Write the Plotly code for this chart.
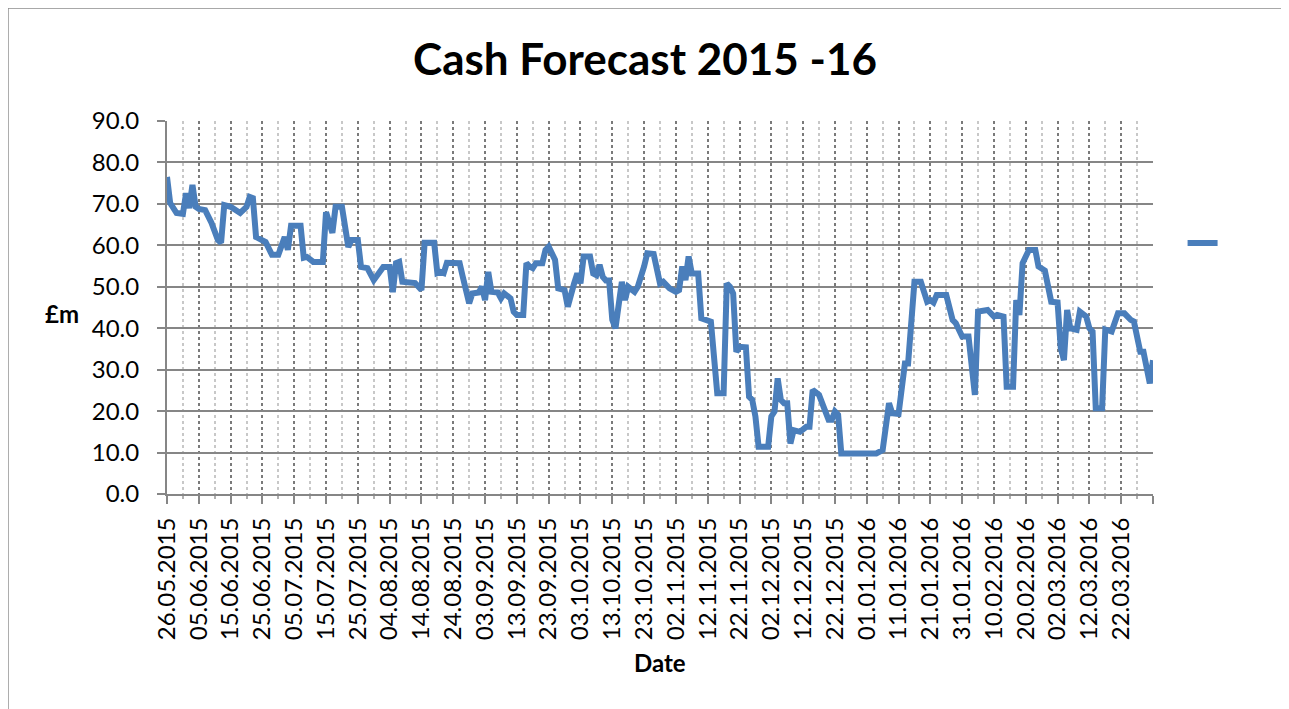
import pandas as pd
import plotly.graph_objects as go

# ---- data ----
dates = [
    "2015-05-26", "2015-05-27", "2015-05-29", "2015-05-31", "2015-06-01", "2015-06-02", "2015-06-03",
    "2015-06-04", "2015-06-05", "2015-06-07", "2015-06-09", "2015-06-11", "2015-06-12", "2015-06-13",
    "2015-06-15", "2015-06-18", "2015-06-20", "2015-06-21", "2015-06-22", "2015-06-23", "2015-06-26",
    "2015-06-28", "2015-06-30", "2015-07-01", "2015-07-02", "2015-07-03", "2015-07-04", "2015-07-07",
    "2015-07-08", "2015-07-09", "2015-07-11", "2015-07-14", "2015-07-15", "2015-07-17", "2015-07-18",
    "2015-07-20", "2015-07-22", "2015-07-23", "2015-07-25", "2015-07-26", "2015-07-28", "2015-07-30",
    "2015-07-31", "2015-08-02", "2015-08-04", "2015-08-05", "2015-08-06", "2015-08-07", "2015-08-08",
    "2015-08-12", "2015-08-14", "2015-08-15", "2015-08-18", "2015-08-19", "2015-08-20", "2015-08-21",
    "2015-08-22", "2015-08-26", "2015-08-27", "2015-08-28", "2015-08-29", "2015-08-30", "2015-09-01",
    "2015-09-02", "2015-09-03", "2015-09-04", "2015-09-05", "2015-09-07", "2015-09-08", "2015-09-09",
    "2015-09-11", "2015-09-12", "2015-09-13", "2015-09-15", "2015-09-16", "2015-09-17", "2015-09-18",
    "2015-09-19", "2015-09-21", "2015-09-22", "2015-09-23", "2015-09-25", "2015-09-26", "2015-09-28",
    "2015-09-29", "2015-10-01", "2015-10-02", "2015-10-03", "2015-10-04", "2015-10-06", "2015-10-07",
    "2015-10-08", "2015-10-09", "2015-10-10", "2015-10-11", "2015-10-12", "2015-10-13", "2015-10-14",
    "2015-10-16", "2015-10-17", "2015-10-18", "2015-10-20", "2015-10-21", "2015-10-23", "2015-10-24",
    "2015-10-26", "2015-10-28", "2015-10-29", "2015-10-31", "2015-11-02", "2015-11-03", "2015-11-04",
    "2015-11-05", "2015-11-06", "2015-11-07", "2015-11-09", "2015-11-10", "2015-11-13", "2015-11-15",
    "2015-11-17", "2015-11-18", "2015-11-19", "2015-11-20", "2015-11-21", "2015-11-22", "2015-11-24",
    "2015-11-25", "2015-11-26", "2015-11-27", "2015-11-28", "2015-12-01", "2015-12-02", "2015-12-03",
    "2015-12-04", "2015-12-05", "2015-12-06", "2015-12-07", "2015-12-08", "2015-12-09", "2015-12-11",
    "2015-12-13", "2015-12-14", "2015-12-15", "2015-12-17", "2015-12-19", "2015-12-20", "2015-12-21",
    "2015-12-22", "2015-12-23", "2015-12-24", "2016-01-04", "2016-01-06", "2016-01-08", "2016-01-09",
    "2016-01-11", "2016-01-13", "2016-01-14", "2016-01-15", "2016-01-16", "2016-01-18", "2016-01-20",
    "2016-01-21", "2016-01-22", "2016-01-23", "2016-01-26", "2016-01-28", "2016-01-29", "2016-01-31",
    "2016-02-02", "2016-02-04", "2016-02-05", "2016-02-08", "2016-02-10", "2016-02-11", "2016-02-13",
    "2016-02-14", "2016-02-16", "2016-02-17", "2016-02-18", "2016-02-19", "2016-02-21", "2016-02-23",
    "2016-02-24", "2016-02-26", "2016-02-28", "2016-03-02", "2016-03-03", "2016-03-04", "2016-03-05",
    "2016-03-06", "2016-03-08", "2016-03-09", "2016-03-11", "2016-03-12", "2016-03-13", "2016-03-14",
    "2016-03-16", "2016-03-17", "2016-03-18", "2016-03-19", "2016-03-21", "2016-03-23", "2016-03-25",
    "2016-03-26", "2016-03-28", "2016-03-29", "2016-03-31", "2016-04-01",
]

cash_m = [
    76.5, 70.2, 67.8, 67.6, 72.6, 69.0, 74.6,
    69.3, 68.8, 68.5, 65.4, 61.3, 60.6, 69.7,
    69.3, 67.8, 69.3, 71.7, 71.4, 62.0, 60.8,
    57.7, 57.7, 59.6, 62.0, 58.9, 64.7, 64.7,
    57.0, 57.2, 56.0, 56.0, 68.0, 63.0, 69.3,
    69.3, 59.6, 61.3, 61.3, 54.8, 54.5, 51.6,
    52.8, 54.8, 54.8, 48.7, 55.7, 56.0, 51.2,
    50.9, 49.2, 60.6, 60.6, 53.3, 53.6, 53.3,
    55.8, 55.7, 52.4, 48.4, 46.0, 48.4, 48.6,
    50.0, 46.8, 53.6, 48.8, 48.6, 47.2, 48.4,
    47.2, 44.0, 43.2, 43.2, 55.7, 54.9, 54.5,
    55.7, 55.7, 58.9, 59.7, 56.5, 49.6, 49.2,
    45.2, 50.8, 53.2, 50.8, 57.3, 57.3, 53.2,
    52.8, 55.3, 52.4, 51.5, 51.5, 42.0, 40.0,
    51.2, 46.8, 50.0, 48.8, 50.0, 54.9, 58.1,
    57.9, 50.8, 51.2, 49.6, 48.8, 49.2, 54.9,
    51.6, 57.3, 53.2, 53.2, 42.4, 41.6, 24.3,
    24.3, 50.8, 50.0, 48.4, 34.3, 35.5, 35.4,
    23.5, 22.7, 18.7, 11.4, 11.4, 18.7, 19.9,
    27.9, 22.7, 21.9, 21.9, 12.2, 15.4, 15.0,
    16.2, 16.2, 25.1, 23.9, 19.5, 17.9, 17.9,
    19.9, 19.1, 9.8, 9.8, 10.6, 21.9, 19.5,
    19.3, 31.5, 31.5, 44.0, 51.2, 51.2, 46.4,
    46.8, 46.2, 48.0, 48.0, 42.0, 41.2, 38.0,
    38.0, 23.9, 44.0, 44.4, 42.8, 43.2, 42.8,
    25.9, 25.9, 46.8, 43.2, 55.7, 58.9, 58.9,
    54.9, 53.9, 46.4, 46.2, 35.2, 32.3, 44.4,
    40.0, 39.6, 44.0, 42.8, 40.0, 39.2, 20.7,
    20.7, 39.7, 39.6, 39.2, 43.6, 43.6, 42.0,
    41.6, 34.3, 34.3, 26.7, 32.3,
]

# category axis of the original: one category per day (29.02.2016 absent)
category_start = "2015-05-26"
category_end = "2016-04-01"
missing_days = ["2016-02-29"]

tick_labels = [
    "26.05.2015", "05.06.2015", "15.06.2015", "25.06.2015", "05.07.2015", "15.07.2015",
    "25.07.2015", "04.08.2015", "14.08.2015", "24.08.2015", "03.09.2015", "13.09.2015",
    "23.09.2015", "03.10.2015", "13.10.2015", "23.10.2015", "02.11.2015", "12.11.2015",
    "22.11.2015", "02.12.2015", "12.12.2015", "22.12.2015", "01.01.2016", "11.01.2016",
    "21.01.2016", "31.01.2016", "10.02.2016", "20.02.2016", "02.03.2016", "12.03.2016",
    "22.03.2016", "",
]

# ---- build category positions ----
cats = [d.strftime("%Y-%m-%d") for d in pd.date_range(category_start, category_end)
        if d.strftime("%Y-%m-%d") not in missing_days]
cat_pos = {c: i for i, c in enumerate(cats)}
x_pos = [cat_pos[d] for d in dates]
tick_vals = list(range(0, len(cats), 10))

FONT = "Lato"
GRID = "#868686"

fig = go.Figure()
fig.add_trace(go.Scatter(
    x=x_pos, y=cash_m, mode="lines", name=" ",
    line=dict(color="#4A7EBB", width=6),
    customdata=dates, hovertemplate="%{customdata}: %{y:.1f}<extra></extra>",
    showlegend=True,
))

fig.update_layout(
    width=1289, height=709,
    margin=dict(l=159, r=144, t=113, b=223),
    paper_bgcolor="white", plot_bgcolor="white",
    font=dict(family=FONT, color="black"),
    title=dict(text="<b>Cash Forecast 2015 -16</b>", x=637 / 1289, xref="container", xanchor="center",
               y=1 - 52 / 709, yref="container", yanchor="middle",
               font=dict(family=FONT, size=44, color="black")),
    showlegend=True,
    legend=dict(x=1.03, y=0.673, xanchor="left", yanchor="middle",
                font=dict(size=20), bgcolor="rgba(0,0,0,0)", itemwidth=30),
    xaxis=dict(
        range=[0, len(cats) - 1], tickmode="array", tickvals=tick_vals, ticktext=tick_labels,
        tickangle=-90, ticks="outside", ticklen=8, tickwidth=2, tickcolor=GRID,
        showline=True, linecolor=GRID, linewidth=2, zeroline=False,
        showgrid=True, gridcolor="#7a7a7a", gridwidth=2, griddash="dot",
        tickfont=dict(size=24, family=FONT), ticklabelstandoff=4,
        minor=dict(tickmode="linear", tick0=5, dtick=10, showgrid=True, gridcolor="#c8c8c8",
                   gridwidth=2, griddash="dot", ticks="outside", ticklen=3, tickcolor="#b0b0b0"),
    ),
    yaxis=dict(
        range=[0, 90], dtick=10, tickformat=".1f", ticks="outside", ticklen=8, tickwidth=2,
        tickcolor=GRID, showline=True, linecolor=GRID, linewidth=2, zeroline=False,
        showgrid=True, gridcolor=GRID, gridwidth=2,
        tickfont=dict(size=24, family=FONT), ticklabelstandoff=13,
    ),
    annotations=[
        dict(text="<b>£m</b>", x=-0.1065, y=0.485, xref="paper", yref="paper",
             xanchor="center", yanchor="middle",
             showarrow=False, font=dict(size=24, family=FONT)),
        dict(text="<b>Date</b>", x=0.5, y=-0.453, xref="paper", yref="paper",
             xanchor="center", yanchor="middle",
             showarrow=False, font=dict(size=24, family=FONT)),
    ],
    shapes=[
        dict(type="rect", xref="paper", yref="paper", x0=-0.1613, x1=1.1348, y0=-0.65, y1=1.303,
             line=dict(color="#8c8c8c", width=1.5), fillcolor="rgba(0,0,0,0)", layer="below"),
    ],
)

fig.write_html("out.html")
